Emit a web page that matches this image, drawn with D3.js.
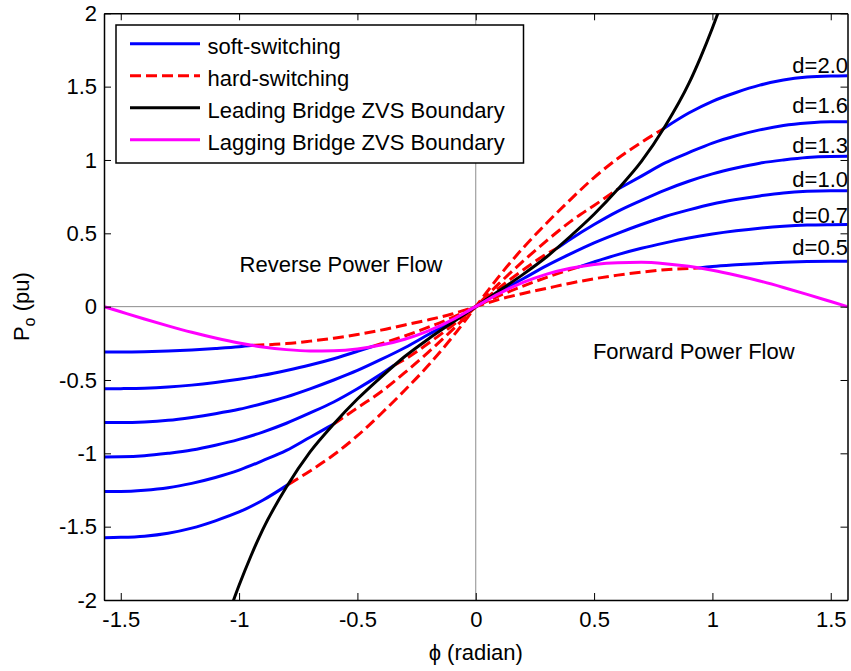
<!DOCTYPE html>
<html>
<head>
<meta charset="utf-8">
<script src="https://cdn.jsdelivr.net/npm/d3@7"></script>
<style>
  body { margin: 0; background: #fff; }
  svg { display: block; }
</style>
</head>
<body>
<svg id="chart"></svg>
<script>
// ZVS / power transfer curves, phi in radian, power in pu

var xTicks = [-1.5, -1, -0.5, 0, 0.5, 1, 1.5];
var yTicks = [-2, -1.5, -1, -0.5, 0, 0.5, 1, 1.5, 2];

var dLabels = ["d=2.0", "d=1.6", "d=1.3", "d=1.0", "d=0.7", "d=0.5"];
var dLabelP = [1.595, 1.322, 1.049, 0.817, 0.572, 0.353];

// soft-switching (blue), null splits the negative and positive branch
var soft20 = [[-1.571,-1.575],[-1.5,-1.573],[-1.4,-1.565],[-1.3,-1.545],[-1.2,-1.51],[-1.1,-1.46],[-1.0,-1.40],[-0.9,-1.32],[-0.79,-1.21],
    null,
    [0.79,1.21],[0.9,1.32],[1.0,1.40],[1.1,1.46],[1.2,1.51],[1.3,1.545],[1.4,1.565],[1.5,1.573],[1.571,1.575]];
var soft16 = [[-1.571,-1.26],[-1.5,-1.26],[-1.4,-1.252],[-1.3,-1.235],[-1.2,-1.205],[-1.1,-1.165],[-1.0,-1.115],[-0.9,-1.05],[-0.8,-0.98],[-0.7,-0.89],[-0.6,-0.80],
    null,
    [0.6,0.80],[0.7,0.89],[0.8,0.98],[0.9,1.05],[1.0,1.115],[1.1,1.165],[1.2,1.205],[1.3,1.235],[1.4,1.252],[1.5,1.26],[1.571,1.26]];
var soft13 = [[-1.571,-1.025],[-1.5,-1.024],[-1.4,-1.017],[-1.3,-1.0],[-1.2,-0.978],[-1.1,-0.945],[-1.0,-0.905],[-0.9,-0.855],[-0.8,-0.795],[-0.7,-0.725],[-0.6,-0.65],[-0.5,-0.56],[-0.4,-0.46],[-0.345,-0.40],
    null,
    [0.345,0.40],[0.4,0.46],[0.5,0.56],[0.6,0.65],[0.7,0.725],[0.8,0.795],[0.9,0.855],[1.0,0.905],[1.1,0.945],[1.2,0.978],[1.3,1.0],[1.4,1.017],[1.5,1.024],[1.571,1.025]];
var soft10 = [[-1.571,-0.79],[-1.5,-0.79],[-1.4,-0.786],[-1.3,-0.775],[-1.2,-0.755],[-1.1,-0.73],[-1.0,-0.70],[-0.9,-0.66],[-0.8,-0.615],[-0.7,-0.56],[-0.6,-0.50],[-0.5,-0.435],[-0.4,-0.36],[-0.3,-0.28],[-0.2,-0.19],[-0.1,-0.10],
    [0,0],
    [0.1,0.10],[0.2,0.19],[0.3,0.28],[0.4,0.36],[0.5,0.435],[0.6,0.50],[0.7,0.56],[0.8,0.615],[0.9,0.66],[1.0,0.70],[1.1,0.73],[1.2,0.755],[1.3,0.775],[1.4,0.786],[1.5,0.79],[1.571,0.79]];
var soft07 = [[-1.571,-0.56],[-1.5,-0.559],[-1.4,-0.556],[-1.3,-0.548],[-1.2,-0.535],[-1.1,-0.517],[-1.0,-0.495],[-0.9,-0.468],[-0.8,-0.435],[-0.7,-0.398],[-0.6,-0.355],[-0.5,-0.305],[-0.43,-0.268],
    null,
    [0.43,0.268],[0.5,0.305],[0.6,0.355],[0.7,0.398],[0.8,0.435],[0.9,0.468],[1.0,0.495],[1.1,0.517],[1.2,0.535],[1.3,0.548],[1.4,0.556],[1.5,0.559],[1.571,0.56]];
var soft05 = [[-1.571,-0.31],[-1.5,-0.31],[-1.4,-0.308],[-1.3,-0.303],[-1.2,-0.295],[-1.1,-0.285],[-1.0,-0.273],[-0.94,-0.263],
    null,
    [0.94,0.263],[1.0,0.273],[1.1,0.285],[1.2,0.295],[1.3,0.303],[1.4,0.308],[1.5,0.31],[1.571,0.31]];

// hard-switching (red dashed)
var hard20 = [[-0.79,-1.21],[-0.7,-1.12],[-0.6,-1.01],[-0.5,-0.88],[-0.4,-0.73],[-0.3,-0.57],[-0.2,-0.40],[-0.1,-0.21],
    [0,0],[0.1,0.21],[0.2,0.40],[0.3,0.57],[0.4,0.73],[0.5,0.88],[0.6,1.01],[0.7,1.12],[0.79,1.21]];
var hard16 = [[-0.6,-0.80],[-0.5,-0.69],[-0.4,-0.58],[-0.3,-0.45],[-0.2,-0.31],[-0.1,-0.16],
    [0,0],[0.1,0.16],[0.2,0.31],[0.3,0.45],[0.4,0.58],[0.5,0.69],[0.6,0.80]];
var hard13 = [[-0.345,-0.40],[-0.3,-0.36],[-0.2,-0.25],[-0.1,-0.13],
    [0,0],[0.1,0.13],[0.2,0.25],[0.3,0.36],[0.345,0.40]];
var hard07 = [[-0.43,-0.268],[-0.3,-0.20],[-0.2,-0.14],[-0.1,-0.075],
    [0,0],[0.1,0.075],[0.2,0.14],[0.3,0.20],[0.43,0.268]];
var hard05 = [[-0.94,-0.263],[-0.8,-0.252],[-0.7,-0.235],[-0.6,-0.215],[-0.5,-0.19],[-0.4,-0.16],[-0.3,-0.125],[-0.2,-0.09],[-0.1,-0.05],
    [0,0],[0.1,0.05],[0.2,0.09],[0.3,0.125],[0.4,0.16],[0.5,0.19],[0.6,0.215],[0.7,0.235],[0.8,0.252],[0.94,0.263]];

// ZVS boundaries
var leadingBoundary = [[-1.05,-2.12],[-1.0,-1.90],[-0.95,-1.70],[-0.9,-1.52],[-0.8,-1.23],[-0.7,-0.99],[-0.6,-0.80],[-0.5,-0.63],[-0.4,-0.48],[-0.3,-0.34],[-0.2,-0.22],[-0.1,-0.11],
    [0,0],[0.1,0.11],[0.2,0.22],[0.3,0.34],[0.4,0.48],[0.5,0.63],[0.6,0.80],[0.7,0.99],[0.8,1.23],[0.9,1.52],[0.95,1.70],[1.0,1.90],[1.05,2.12]];
var laggingBoundary = [[-1.571,0],[-1.5,-0.035],[-1.4,-0.084],[-1.3,-0.131],[-1.2,-0.175],[-1.1,-0.214],[-1.0,-0.248],[-0.9,-0.275],[-0.8,-0.293],[-0.7,-0.302],[-0.6,-0.30],[-0.5,-0.288],[-0.4,-0.262],[-0.3,-0.222],[-0.2,-0.165],[-0.1,-0.09],
    [0,0],[0.1,0.09],[0.2,0.165],[0.3,0.222],[0.4,0.262],[0.5,0.288],[0.6,0.30],[0.7,0.302],[0.8,0.293],[0.9,0.275],[1.0,0.248],[1.1,0.214],[1.2,0.175],[1.3,0.131],[1.4,0.084],[1.5,0.035],[1.571,0]];

var legendNames = ["soft-switching", "hard-switching", "Leading Bridge ZVS Boundary", "Lagging Bridge ZVS Boundary"];

var w = 851, h = 671;
var plotLeft = 104, plotRight = 847.5, plotTop = 13.3, plotBottom = 600;
var fontFamily = "'Liberation Sans', Arial, Helvetica, sans-serif";
var lw = 3;
var dashed = "11,5";

var svg = d3.select("#chart").attr("width", w).attr("height", h);
svg.append("rect").attr("width", w).attr("height", h).attr("fill", "#fff");

var x = d3.scaleLinear().domain([-Math.PI / 2, Math.PI / 2]).range([plotLeft, plotRight]);
var y = d3.scaleLinear().domain([-2, 2]).range([plotBottom, plotTop]);

svg.append("clipPath").attr("id", "plot-clip")
    .append("rect")
    .attr("x", plotLeft).attr("y", plotTop)
    .attr("width", plotRight - plotLeft).attr("height", plotBottom - plotTop);

// zero lines
svg.append("line")
    .attr("x1", plotLeft).attr("x2", plotRight)
    .attr("y1", y(0)).attr("y2", y(0))
    .attr("stroke", "#8c8c8c").attr("stroke-width", 1);
svg.append("line")
    .attr("x1", x(0)).attr("x2", x(0))
    .attr("y1", plotTop).attr("y2", plotBottom)
    .attr("stroke", "#8c8c8c").attr("stroke-width", 1);

var line = d3.line()
    .defined(function(d) { return d !== null; })
    .x(function(d) { return x(d[0]); })
    .y(function(d) { return y(d[1]); })
    .curve(d3.curveMonotoneX);

var curves = svg.append("g").attr("clip-path", "url(#plot-clip)");

function drawCurve(data, color, dash) {
    curves.append("path")
        .datum(data)
        .attr("d", line)
        .attr("fill", "none")
        .attr("stroke", color)
        .attr("stroke-width", lw)
        .attr("stroke-dasharray", dash || null)
        .attr("stroke-linejoin", "round");
}

[soft20, soft16, soft13, soft10, soft07, soft05].forEach(function(s) { drawCurve(s, "#0000ff"); });
[hard20, hard16, hard13, hard07, hard05].forEach(function(s) { drawCurve(s, "#ff0000", dashed); });
drawCurve(leadingBoundary, "#000000");
drawCurve(laggingBoundary, "#ff00ff");

// axes, ticks pointing inward on all four sides
function styleAxis(g) {
    g.select(".domain").attr("stroke", "#000").attr("stroke-width", 1.5);
    g.selectAll(".tick line").attr("stroke", "#000").attr("stroke-width", 1);
    g.selectAll("text").attr("fill", "#000")
        .style("font-family", fontFamily).style("font-size", "22px");
}

svg.append("g")
    .attr("transform", "translate(0," + plotBottom + ")")
    .call(d3.axisBottom(x).tickValues(xTicks).tickSizeInner(-7).tickSizeOuter(0).tickPadding(11)
        .tickFormat(function(d) { return String(d); }))
    .call(styleAxis);
svg.append("g")
    .attr("transform", "translate(0," + plotTop + ")")
    .call(d3.axisTop(x).tickValues(xTicks).tickSizeInner(-7).tickSizeOuter(0).tickFormat(""))
    .call(styleAxis);
svg.append("g")
    .attr("transform", "translate(" + plotLeft + ",0)")
    .call(d3.axisLeft(y).tickValues(yTicks).tickSizeInner(-7).tickSizeOuter(0).tickPadding(7)
        .tickFormat(function(d) { return String(d); }))
    .call(styleAxis);
svg.append("g")
    .attr("transform", "translate(" + plotRight + ",0)")
    .call(d3.axisRight(y).tickValues(yTicks).tickSizeInner(-7).tickSizeOuter(0).tickFormat(""))
    .call(styleAxis);

function drawText(coordinate, text, config) {
    return svg.append("text")
        .attr("x", coordinate.x)
        .attr("y", coordinate.y)
        .attr("text-anchor", config.textAnchor || "start")
        .style("font-family", fontFamily)
        .style("font-size", config.fontSize || "22px")
        .attr("fill", "#000")
        .text(text);
}

// axis labels
drawText({ x: (plotLeft + plotRight) / 2, y: 660 }, "\u03D5 (radian)", { textAnchor: "middle" });

var yLabel = svg.append("text")
    .attr("transform", "translate(29," + ((plotTop + plotBottom) / 2) + ") rotate(-90)")
    .attr("text-anchor", "middle")
    .style("font-family", fontFamily)
    .style("font-size", "22px")
    .attr("fill", "#000");
yLabel.append("tspan").text("P");
yLabel.append("tspan").attr("dy", 6).style("font-size", "16px").text("o");
yLabel.append("tspan").attr("dy", -6).text(" (pu)");

// d labels at the right edge
dLabels.forEach(function(t, i) {
    drawText({ x: plotRight + 0.5, y: y(dLabelP[i]) }, t, { textAnchor: "end" });
});

// power flow direction notes
drawText({ x: x(-0.998), y: y(0.237) }, "Reverse Power Flow", {});
drawText({ x: x(0.495), y: y(-0.36) }, "Forward Power Flow", {});

// legend
var legend = svg.append("g");
legend.append("rect")
    .attr("x", 116).attr("y", 25)
    .attr("width", 407.5).attr("height", 138)
    .attr("fill", "#fff").attr("stroke", "#000").attr("stroke-width", 1.5);

var legendColors = ["#0000ff", "#ff0000", "#000000", "#ff00ff"];
legendNames.forEach(function(name, i) {
    var base = 54.3 + i * 32;
    legend.append("line")
        .attr("x1", 130).attr("x2", 200)
        .attr("y1", base - 10.5).attr("y2", base - 10.5)
        .attr("stroke", legendColors[i]).attr("stroke-width", lw)
        .attr("stroke-dasharray", i === 1 ? dashed : null);
    legend.append("text")
        .attr("x", 207.5).attr("y", base)
        .style("font-family", fontFamily).style("font-size", "22px")
        .attr("fill", "#000")
        .text(name);
});
</script>
</body>
</html>
